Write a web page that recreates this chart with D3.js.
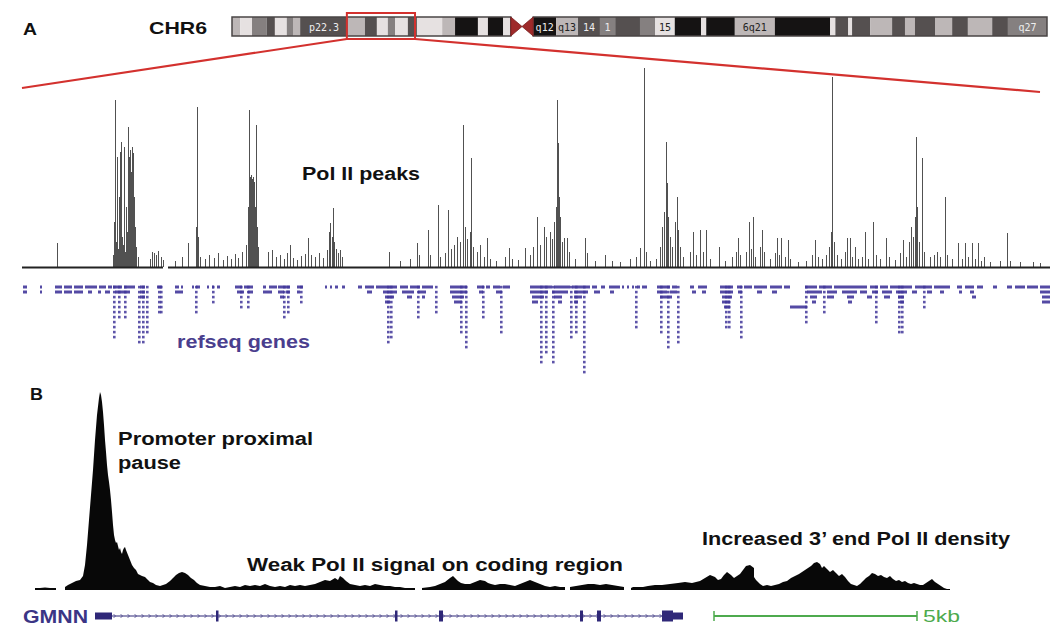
<!DOCTYPE html>
<html><head><meta charset="utf-8">
<script src="https://cdn.jsdelivr.net/npm/d3@7"></script>
<style>body{margin:0;background:#fff}svg{display:block}</style>
</head><body>
<svg id="c" width="1057" height="628"></svg>
<script>
// ---------- DATA ----------
// Chromosome 6 ideogram bands (Mb): [start, end, stain, label]
const chrBands = [
 [0,1.7,'l',''],[1.7,4.2,'w',''],[4.2,7.3,'m',''],[7.3,9.0,'d',''],[9.0,11.5,'w',''],
 [11.5,12.8,'m',''],[12.8,14.3,'l',''],[14.3,24.3,'d','p22.3'],[24.3,27.9,'l',''],
 [27.9,30.4,'d',''],[30.4,32.7,'w',''],[32.7,34.2,'m',''],[34.2,36.9,'w',''],
 [36.9,38.8,'d',''],[38.8,44.1,'w',''],[44.1,46.8,'l',''],[46.8,51.6,'b',''],
 [51.6,53.7,'w',''],[53.7,56.9,'b',''],[56.9,58.5,'w',''],
 [63.2,68.0,'b','q12'],[68.0,72.6,'l','q13'],[72.6,77.2,'d','14'],[77.2,80.4,'m','1'],
 [80.4,85.6,'d',''],[85.6,88.8,'m',''],[88.8,92.9,'w','15'],[92.9,98.4,'b',''],
 [98.4,99.5,'w',''],[99.5,105.5,'b',''],[105.5,113.9,'l','6q21'],[113.9,125.5,'b',''],
 [125.5,126.6,'w',''],[126.6,129.3,'d',''],[129.3,130.1,'w',''],[130.1,133.9,'d',''],
 [133.9,138.5,'l',''],[138.5,141.2,'d',''],[141.2,143.3,'l',''],[143.3,147.5,'d',''],
 [147.5,151.1,'l',''],[151.1,154.4,'d',''],[154.4,159.5,'l',''],[159.5,162.8,'d',''],
 [162.8,171,'m','q27']
];
const chrLength = 171;
const centromere = [58.5, 63.2];
const zoomRegion = [24.1, 38.4];
const chrName = 'CHR6';

// Panel A: Pol II peak positions (x10 kb from region start) and signal
const peakPos = [35,91,92,93,94,95,96,97,98,99,100,101,102,103,104,105,106,107,108,109,110,111,112,113,114,116,
128,130,132,134,136,139,141,153,160,166,174,175,176,178,183,187,192,196,201,205,209,213,216,220,
224,226,227,228,229,230,231,232,233,234,235,236,246,250,254,258,262,265,268,271,275,279,283,286,289,293,297,301,305,
307,308,310,311,312,314,316,318,320,367,378,388,395,397,406,408,416,418,423,426,429,432,435,438,441,443,445,448,449,
451,455,458,462,465,468,474,483,487,490,496,503,508,511,515,518,522,524,528,530,532,534,535,536,537,538,540,542,545,
547,553,563,565,573,583,590,598,608,614,618,622,624,628,634,638,640,642,644,645,646,648,650,653,655,656,658,661,668,
671,674,678,681,684,688,697,703,710,714,716,718,724,727,729,731,733,738,740,742,748,753,755,757,759,763,766,768,776,
784,790,793,796,800,804,807,809,810,812,815,819,823,825,828,830,833,836,840,843,846,851,854,858,864,867,873,878,881,
884,887,889,891,893,894,895,897,900,902,908,912,915,918,923,925,930,936,940,943,946,950,953,956,959,962,968,978,985,
988,998,1011,1018];
const peakSignal = [24,12,45,167,25,110,18,70,115,125,30,22,120,15,60,35,140,110,117,95,120,114,70,40,20,10,
8,15,14,12,16,10,7,6,10,24,40,160,30,10,8,12,9,14,7,11,8,13,9,15,
22,60,157,90,92,88,90,85,60,142,40,20,15,17,10,12,8,14,22,9,7,11,13,29,12,10,14,9,17,
35,44,30,59,25,18,14,17,10,15,6,8,24,12,37,12,62,10,14,57,18,22,30,25,142,40,28,35,109,
20,15,22,10,29,8,6,10,19,8,7,19,12,20,50,22,40,30,35,28,45,60,167,124,70,50,25,29,29,
15,8,29,14,6,12,6,5,8,10,19,199,15,6,8,20,40,55,125,84,50,30,20,45,70,37,20,10,15,
35,12,37,15,37,8,20,6,10,15,29,12,15,45,18,50,10,20,37,15,8,14,29,12,29,10,27,8,5,
6,12,27,10,8,12,20,35,190,25,12,8,15,29,29,10,20,8,10,35,8,45,12,8,29,10,7,14,27,
10,25,40,30,50,130,60,25,109,15,10,12,15,10,70,12,8,24,8,24,10,24,8,24,6,10,5,6,34,
6,5,5,4];
const baselineSegments = [[0,141],[146,1028]];

// Panel A: RefSeq genes — horizontal blocks [start, end, row] and stacked columns [pos, rows]
const refseqBlocks = [[1,5,0],[1,5,1],[18,20,0],[18,20,1],[33,40,0],[33,40,1],[42,50,0],[42,50,1],[52,61,0],[52,61,1],
[63,75,0],[77,84,0],[86,90,0],[66,70,1],[76,79,1],[83,88,1],[91,100,0],[102,113,0],[93,108,1],[118,123,0],[118,123,1],
[118,123,2],[135,140,0],[153,157,0],[159,161,0],[153,161,1],[170,172,0],[174,178,0],[185,187,0],[190,192,0],[195,198,0],
[213,220,0],[222,231,0],[215,222,1],[226,231,1],[241,244,0],[247,255,0],[241,250,1],[256,268,0],[256,262,1],[264,268,1],
[258,262,2],[275,281,0],[275,278,1],[303,305,0],[308,310,0],[313,316,0],[320,323,0],[336,340,0],[343,352,0],[354,361,0],
[345,350,1],[361,375,0],[361,375,1],[363,372,2],[363,368,3],[378,386,0],[388,398,0],[400,411,0],[380,392,1],[396,404,1],
[385,390,2],[400,403,2],[428,445,0],[428,445,1],[430,442,2],[432,440,3],[455,462,0],[464,468,0],[457,461,1],[471,478,0],
[481,488,0],[474,480,1],[508,530,0],[532,548,0],[550,568,0],[508,526,1],[530,546,1],[552,566,1],[510,522,2],[532,540,2],
[552,560,2],[510,516,3],[536,540,3],[552,556,3],[570,575,0],[579,583,0],[587,598,0],[572,578,1],[588,592,1],[600,602,0],
[605,607,0],[610,612,0],[615,618,0],[620,625,0],[635,648,0],[650,655,0],[635,645,1],[648,655,1],[638,650,2],[668,672,0],
[676,685,0],[670,674,1],[680,684,1],[698,711,0],[698,711,1],[700,710,2],[700,708,3],[702,708,4],[715,720,0],[722,730,0],
[732,745,0],[748,760,0],[762,768,0],[716,720,1],[735,740,1],[750,755,1],[768,785,4],[783,795,0],[797,810,0],[812,835,0],
[785,800,1],[805,815,1],[820,835,1],[788,795,2],[805,812,2],[825,832,2],[790,794,3],[826,830,3],[835,845,0],[848,856,0],
[838,845,1],[850,856,1],[845,850,2],[858,866,0],[868,885,0],[860,870,1],[874,885,1],[862,868,2],[876,882,2],[878,882,3],
[885,890,0],[893,910,0],[912,928,0],[890,895,1],[905,910,1],[918,922,1],[935,940,0],[943,952,0],[955,961,0],[937,940,1],
[948,952,1],[950,954,2],[971,975,0],[985,990,0],[993,1003,0],[1005,1016,0],[1018,1028,0],[1018,1028,1],[1020,1028,2],
[1020,1028,3]];
const refseqStacks = [[91,11],[96,7],[102,7],[116,12],[120,12],[124,10],[136,6],[138,6],[173,6],[190,4],[218,5],[225,5],
[261,7],[265,6],[278,4],[365,12],[368,11],[395,7],[413,6],[438,10],[443,13],[460,7],[478,10],[518,16],[523,14],[530,16],
[548,11],[553,10],[561,18],[613,9],[638,10],[645,13],[655,12],[703,9],[706,9],[718,11],[783,8],[801,6],[853,8],[876,10],
[879,10],[901,5]];

// Panel B: Pol II density over GMNN (bin ~25 bp, signal); null = no data
const profileBin = [0,5,10,15,21,23,30,33,37,41,45,48,50,52,54,56,58,60,62,64,65,66,67,68,69,70,71,72,73,74,75,76,77,78,79,
80,81,82,83,84,85,86,87,88,89,90,91,93,95,97,99,101,103,105,107,110,113,115,118,121,125,128,131,135,138,141,144,147,
150,153,156,159,162,165,170,175,180,185,190,195,200,205,210,215,220,225,230,235,240,245,250,255,260,265,270,275,280,
285,290,295,300,303,305,308,311,315,320,325,330,335,340,345,350,355,360,365,370,375,380,383,387,395,400,405,410,415,
418,420,423,426,430,435,440,445,450,453,456,460,465,470,475,480,485,490,495,500,505,510,515,520,525,530,533,535,
547,553,559,565,571,577,583,589,594,596,598,608,613,620,627,635,643,650,657,665,670,675,680,683,686,689,692,696,
699,702,705,708,711,715,719,719,719,721,725,728,732,736,740,744,748,752,756,760,764,767,770,773,776,779,782,785,787,
789,792,795,798,801,804,807,810,813,816,819,822,825,828,831,834,837,840,843,846,849,852,855,858,861,864,867,870,873,
876,879,882,885,888,891,894,897,900,903,906,909,912,915,918];
const profileSignal = [2,2,2.5,2,2,null,3,5,7,9,10,14,25,45,70,95,120,150,175,192,198,195,188,178,165,150,138,125,115,108,100,
90,78,65,55,50,47,48,44,40,42,38,36,40,42,43,40,35,30,25,22,20,16,15,14,13,10,8,7,5,4,5,6,9,12,15,17,18,
17,15,12,10,7,5,4,3,3,4,2,3,4,3,5,4,5,4,6,4,3,4,3,5,4,5,4,5,6,8,10,9,12,10,14,
12,9,6,5,4,5,4,6,5,4,4,3,3,2,2,2,null,2,3,4,6,8,12,14,12,9,7,6,6,8,10,9,7,6,5,6,6,5,4,6,8,10,8,6,
4,3,4,3,3,null,3,5,6,6,5,6,5,4,3,null,2,3,3,4,5,5,6,7,8,7,9,12,15,13,10,11,15,18,15,12,14,16,20,24,25,22,18,
13,10,6,4,5,4,5,6,8,9,12,14,16,18,20,22,24,27,28,26,22,24,21,18,20,17,14,16,13,9,6,5,4,6,9,12,14,17,16,14,15,
13,12,14,11,9,10,8,9,7,6,7,6,5,5,7,9,11,8,6,4,2,1,1];

// GMNN gene model (bins): [start, end, type] u=UTR, c=coding exon
const gmnnStructure = [[60,77,'u'],[181,183,'c'],[360,362,'c'],[404,408,'c'],[545,548,'c'],[562,566,'c'],[627,638,'c'],[638,648,'u']];
const gmnnSpan = [60,648];
const geneName = 'GMNN';
const scaleBar = [679,882];
const scaleBarLabel = '5kb';

const labelsA = {panel:'A', peaks:'Pol II peaks', genes:'refseq genes'};
const labelsB = {panel:'B', pause1:'Promoter proximal', pause2:'pause', weak:'Weak Pol II signal on coding region', end3:'Increased 3\u2019 end Pol II density'};

// ---------- DRAW ----------
const svg = d3.select('#c');
const FONT = "'Liberation Sans', Arial, Helvetica, sans-serif";
function label(x, y, txt, size, len, color, weight){
  return svg.append('text').attr('x',x).attr('y',y).text(txt)
    .attr('font-family',FONT).attr('font-size',size).attr('font-weight',weight||'bold')
    .attr('fill',color||'#111').attr('textLength',len).attr('lengthAdjust','spacingAndGlyphs');
}

// Ideogram
const xChr = d3.scaleLinear().domain([0, chrLength]).range([232, 1047]);
const shade = {w:'#e6e1e1', l:'#bdb7b7', m:'#858080', d:'#555050', b:'#151313'};
const iy0 = 17, iy1 = 36;
const ig = svg.append('g');
ig.selectAll('rect.band').data(chrBands).join('rect')
  .attr('x', d=>xChr(d[0])).attr('y', iy0).attr('width', d=>xChr(d[1])-xChr(d[0])).attr('height', iy1-iy0)
  .attr('fill', d=>shade[d[2]]);
ig.append('rect').attr('x',xChr(0)).attr('y',iy0).attr('width',xChr(centromere[0])-xChr(0)).attr('height',iy1-iy0)
  .attr('fill','none').attr('stroke','#4a4545').attr('stroke-width',1.5);
ig.append('rect').attr('x',xChr(centromere[1])).attr('y',iy0).attr('width',xChr(chrLength)-xChr(centromere[1])).attr('height',iy1-iy0)
  .attr('fill','none').attr('stroke','#4a4545').attr('stroke-width',1.5);
const cmid = xChr((centromere[0]+centromere[1])/2), ym=(iy0+iy1)/2;
ig.append('path').attr('d',`M${xChr(centromere[0])},${iy0}L${cmid},${ym}L${xChr(centromere[0])},${iy1}Z M${xChr(centromere[1])},${iy0}L${cmid},${ym}L${xChr(centromere[1])},${iy1}Z`)
  .attr('fill','#9e2a2a').attr('stroke','#7a2020').attr('stroke-width',0.8);
ig.selectAll('text.bl').data(chrBands.filter(d=>d[3])).join('text')
  .attr('x', d=>(xChr(d[0])+xChr(d[1]))/2).attr('y', 30.5).attr('text-anchor','middle')
  .attr('font-family',"'DejaVu Sans Mono', monospace").attr('font-size',10)
  .attr('fill', d=>(d[2]==='w'||d[2]==='l')?'#222':'#eee').text(d=>d[3]);
const zx0 = xChr(zoomRegion[0]), zx1 = xChr(zoomRegion[1]);
svg.append('rect').attr('x',zx0).attr('y',13).attr('width',zx1-zx0).attr('height',26)
  .attr('fill','none').attr('stroke','#d3312e').attr('stroke-width',2);

// Peaks
const xPk = d3.scaleLinear().domain([0,1028]).range([22,1050]);
const yPk = d3.scaleLinear().domain([0,200]).range([267,67]);
svg.append('line').attr('x1',zx0).attr('y1',39).attr('x2',xPk(0)).attr('y2',88).attr('stroke','#d3312e').attr('stroke-width',2.2);
svg.append('line').attr('x1',zx1).attr('y1',39).attr('x2',xPk(1018)).attr('y2',92).attr('stroke','#d3312e').attr('stroke-width',2.2);

label(23, 35, labelsA.panel, 17, 14);
label(149, 34, chrName, 17, 58);

svg.append('g').selectAll('line').data(peakPos.map((p,i)=>[p,peakSignal[i]])).join('line')
  .attr('x1', d=>xPk(d[0])+0.5).attr('x2', d=>xPk(d[0])+0.5)
  .attr('y1', yPk(0)).attr('y2', d=>yPk(d[1]))
  .attr('stroke','#333').attr('stroke-opacity',0.85).attr('stroke-width',1);
svg.append('g').selectAll('line').data(baselineSegments).join('line')
  .attr('x1', d=>xPk(d[0])).attr('x2', d=>xPk(d[1])).attr('y1', yPk(0)+0.5).attr('y2', yPk(0)+0.5)
  .attr('stroke','#222').attr('stroke-width',2);
label(302, 180, labelsA.peaks, 18, 118);

// RefSeq genes
const rowY = r => 287 + r*5;
const gColor = '#41369a';
const gg = svg.append('g').attr('fill', gColor);
gg.selectAll('rect.b').data(refseqBlocks).join('rect')
  .attr('x', d=>xPk(d[0])).attr('y', d=>rowY(d[2])-1.5).attr('width', d=>Math.max(2,xPk(d[1])-xPk(d[0])))
  .attr('height', 3).attr('opacity',0.9);
const stackCells = [];
refseqStacks.forEach(s=>{ for(let r=0;r<s[1];r++) stackCells.push([s[0], r]); });
gg.selectAll('rect.s').data(stackCells).join('rect')
  .attr('x', d=>xPk(d[0])).attr('y', d=>rowY(d[1])-1.2).attr('width',2.6).attr('height',2.6).attr('opacity',0.85);
label(177, 348, labelsA.genes, 18, 133, '#4a3e8e');

// Panel B
const xB = d3.scaleLinear().domain([0,920]).range([35,955]);
const yB = d3.scaleLinear().domain([0,200]).range([590,390]);
label(30, 400, labelsB.panel, 16, 13);
const prof = profileBin.map((b,i)=>[b, profileSignal[i]]);
svg.append('path').datum(prof)
  .attr('d', d3.area().defined(d=>d[1]!=null).x(d=>xB(d[0])).y0(yB(0)).y1(d=>yB(d[1])))
  .attr('fill','#080808');
label(118, 445, labelsB.pause1, 18, 195);
label(118, 469, labelsB.pause2, 18, 63);
label(247, 571, labelsB.weak, 18, 376);
label(702, 545, labelsB.end3, 18, 308);

// GMNN gene model
const gy = 616, gmColor = '#2f2878';
label(23, 623, geneName, 18, 65, '#3b3585');
svg.append('line').attr('x1',xB(gmnnSpan[0])).attr('x2',xB(gmnnSpan[1])).attr('y1',gy).attr('y2',gy)
  .attr('stroke',gmColor).attr('stroke-width',1.2);
const chev = d3.range(xB(gmnnSpan[0])+6, xB(gmnnSpan[1])-4, 7);
svg.append('g').selectAll('path').data(chev).join('path')
  .attr('d', x=>`M${x-1.5},${gy-2}L${x+0.5},${gy}L${x-1.5},${gy+2}`)
  .attr('fill','none').attr('stroke',gmColor).attr('stroke-width',0.9).attr('opacity',0.7);
svg.append('g').selectAll('rect').data(gmnnStructure).join('rect')
  .attr('x', d=>xB(d[0])).attr('width', d=>Math.max(2.5,xB(d[1])-xB(d[0])))
  .attr('y', d=>d[2]==='c'? gy-5.5 : gy-3.5).attr('height', d=>d[2]==='c'?11:7)
  .attr('fill', gmColor);

// Scale bar
const sbColor = '#4daa4d';
svg.append('line').attr('x1',xB(scaleBar[0])).attr('x2',xB(scaleBar[1])).attr('y1',gy).attr('y2',gy).attr('stroke',sbColor).attr('stroke-width',2);
[scaleBar[0], scaleBar[1]].forEach(b=>{
  svg.append('line').attr('x1',xB(b)).attr('x2',xB(b)).attr('y1',gy-5).attr('y2',gy+5).attr('stroke',sbColor).attr('stroke-width',1.5);
});
label(923, 622, scaleBarLabel, 17, 37, sbColor, 'normal');
</script>
</body></html>
